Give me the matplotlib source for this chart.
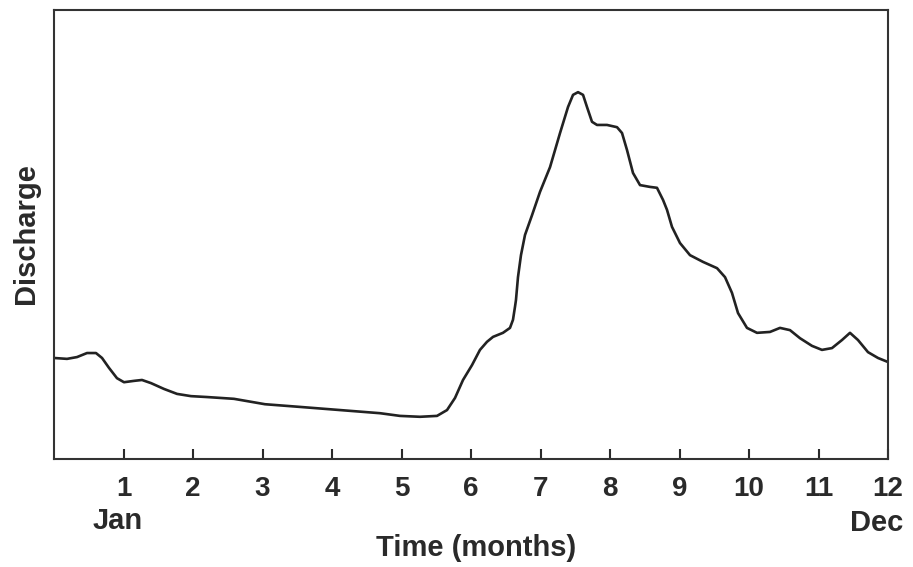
import matplotlib.pyplot as plt

plt.rcParams["font.family"] = ["Liberation Sans", "DejaVu Sans"]

# Discharge hydrograph (arbitrary units, 0-100)
months = [0.000, 0.187, 0.331, 0.475, 0.604, 0.691, 0.791, 0.906, 1.007, 1.151,
          1.266, 1.396, 1.583, 1.770, 1.971, 2.201, 2.590, 3.036, 3.540, 4.115,
          4.691, 4.978, 5.266, 5.511, 5.655, 5.770, 5.885, 6.014, 6.129, 6.230,
          6.317, 6.460, 6.561, 6.604, 6.633, 6.647, 6.676, 6.719, 6.777, 6.878,
          6.993, 7.137, 7.281, 7.396, 7.468, 7.540, 7.612, 7.669, 7.741, 7.813,
          7.957, 8.101, 8.173, 8.245, 8.331, 8.432, 8.576, 8.676, 8.763, 8.820,
          8.892, 9.007, 9.151, 9.338, 9.540, 9.655, 9.755, 9.842, 9.971, 10.115,
          10.302, 10.446, 10.590, 10.734, 10.906, 11.050, 11.194, 11.338, 11.453, 11.568,
          11.712, 11.856, 12.000]
discharge = [22.5, 22.3, 22.7, 23.6, 23.6, 22.5, 20.3, 18.0, 17.1, 17.4,
             17.6, 16.9, 15.6, 14.5, 14.0, 13.8, 13.4, 12.2, 11.6, 10.9,
             10.2, 9.6, 9.4, 9.6, 10.9, 13.6, 17.6, 20.9, 24.3, 26.1,
             27.2, 28.1, 29.2, 31.0, 33.9, 35.4, 40.5, 45.4, 49.9, 54.3,
             59.5, 65.0, 72.6, 78.4, 81.1, 81.7, 81.1, 78.4, 75.1, 74.4,
             74.4, 73.9, 72.6, 68.8, 63.7, 61.0, 60.6, 60.4, 57.7, 55.5,
             51.7, 48.1, 45.4, 43.9, 42.5, 40.5, 37.0, 32.5, 29.2, 28.1,
             28.3, 29.2, 28.7, 26.9, 25.2, 24.3, 24.7, 26.5, 28.1, 26.5,
             23.8, 22.5, 21.6]
tick_months = list(range(1, 13))

W, H = 913, 567
fig = plt.figure(figsize=(W / 100, H / 100), dpi=100)
ax = fig.add_axes([54 / W, 1 - 459 / H, 834 / W, 449 / H])

ax.plot(months, discharge, color="#222222", linewidth=1.9,
        solid_joinstyle="round", solid_capstyle="round")

ax.set_xlim(0, 12)
ax.set_ylim(0, 100)
ax.set_yticks([])
ax.set_xticks(tick_months)
ax.tick_params(axis="x", direction="in", length=7, width=1.5, pad=12,
               labelsize=20, colors="#2a2a2a")
for lbl in ax.get_xticklabels():
    lbl.set_fontweight("bold")

for spine in ax.spines.values():
    spine.set_linewidth(1.5)
    spine.set_color("#333333")

txt = dict(fontsize=21, fontweight="bold", color="#2a2a2a",
           ha="center", va="center")
fig.text(26 / W, 1 - 234 / H, "Discharge", rotation=90, **txt)
fig.text(476 / W, 1 - 548 / H, "Time (months)", **txt)
fig.text(118 / W, 1 - 521 / H, "Jan", **txt)
fig.text(877 / W, 1 - 523 / H, "Dec", **txt)

plt.savefig("out.png", dpi=100)
